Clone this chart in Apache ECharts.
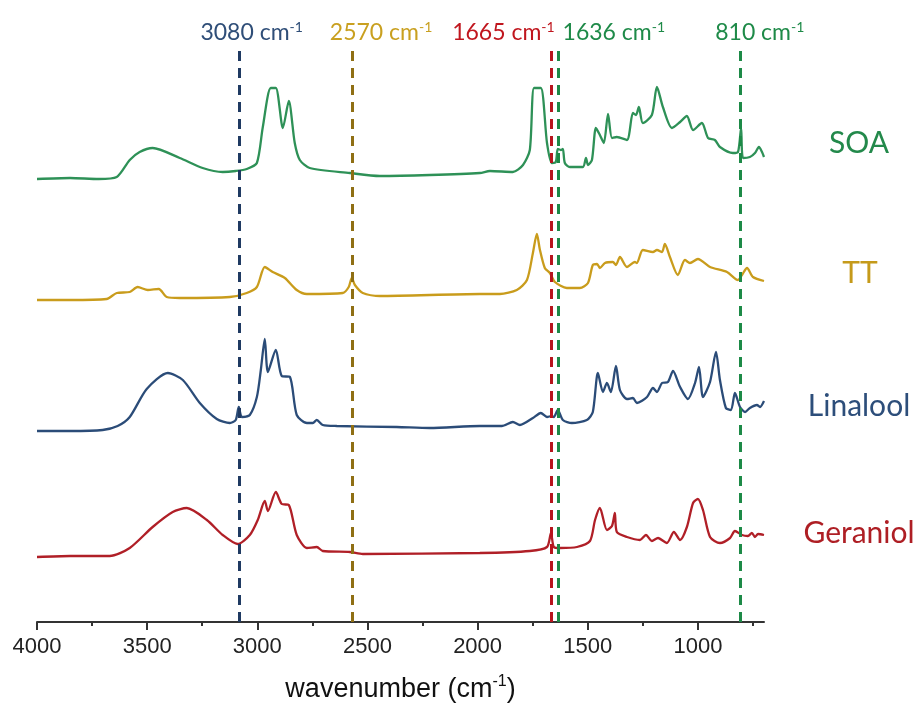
<!DOCTYPE html>
<html><head><meta charset="utf-8">
<script src="https://cdn.jsdelivr.net/npm/echarts@6/dist/echarts.min.js"></script>
<style>html,body{margin:0;padding:0;background:#fff}#c{width:924px;height:711px}</style>
</head><body><div id="c"></div>
<script>
// ---- data (wavenumber in cm-1, absorbance in arbitrary units relative to each spectrum's baseline) ----
const soaWn = [4000,3850,3720,3638,3579,3534,3475,3352,3248,3157,3098,3048,3002,2975,2939,2916,2884,2857,2830,2807,2762,2580,2444,2217,1990,1944,1840,1794,1763,1744,1713,1685,1663,1645,1636,1622,1613,1604,1581,1522,1508,1499,1481,1463,1445,1427,1408,1390,1368,1322,1295,1281,1268,1250,1209,1186,1159,1118,1081,1050,1022,982,954,923,900,841,818,804,795,764,741,723,709,700];
const soaAbs = [0,1,0,2,19,27,31,21,11,7,8,10,16,52,91,91,51,78,36,19,11,6,3,4,6,8,7,14,29,91,91,36,16,17,30,29,30,16,12,12,21,14,19,51,44,36,65,41,42,39,66,64,72,56,64,92,72,51,57,63,49,56,41,39,32,26,27,51,21,22,26,32,27,22];

const ttWn = [4000,3850,3684,3638,3579,3543,3497,3447,3411,3352,3125,3048,3002,2966,2930,2875,2821,2775,2612,2585,2571,2557,2521,2444,1990,1899,1822,1776,1749,1731,1717,1695,1672,1649,1595,1536,1499,1477,1458,1445,1422,1386,1372,1354,1322,1286,1277,1250,1204,1186,1163,1150,1127,1091,1059,1036,1000,945,868,818,800,777,750,700];
const ttAbs = [0,0,1,7,8,13,10,11,3,2,3,7,13,33,28,22,10,6,7,13,22,15,7,4,6,6,10,20,47,66,50,32,27,18,12,12,17,35,36,32,37,38,35,43,33,38,37,50,48,50,48,56,43,25,40,37,41,33,28,20,25,32,23,19];

const linaloolWn = [4000,3850,3702,3634,3579,3502,3406,3338,3261,3184,3125,3098,3084,3070,3034,3002,2984,2966,2952,2916,2889,2852,2821,2775,2748,2730,2703,2639,2367,2217,1990,1890,1840,1808,1749,1713,1685,1663,1654,1636,1613,1572,1504,1477,1454,1431,1413,1395,1372,1354,1322,1295,1277,1231,1204,1186,1163,1136,1113,1081,1045,1013,995,977,945,918,900,873,850,832,809,786,764,732,718,700];
const linaloolAbs = [0,0,1,5,14,42,58,51,28,12,8,11,24,14,16,34,61,92,59,81,55,54,16,8,8,11,6,5,4,3,5,5,9,6,13,18,14,15,14,21,11,8,11,19,58,39,48,39,65,41,32,33,28,34,43,39,48,49,60,44,32,48,64,34,49,79,51,23,21,38,24,19,23,26,24,30];

const geraniolWn = [4000,3850,3670,3579,3475,3384,3320,3229,3157,3089,3034,2998,2966,2952,2916,2889,2857,2821,2775,2730,2703,2580,2521,1990,1763,1685,1667,1654,1626,1549,1490,1467,1445,1413,1390,1377,1368,1322,1263,1236,1209,1181,1141,1109,1081,1050,1022,1000,977,945,900,854,832,800,773,755,741,727,700];
const geraniolAbs = [0,1,1,9,30,45,49,37,22,13,22,37,56,46,65,53,52,22,9,10,6,5,3,4,6,10,24,10,9,10,16,37,49,27,31,44,25,20,17,22,16,19,14,25,17,30,54,58,47,20,14,19,26,22,21,24,20,23,22];

const spectrumNames = ['SOA', 'TT', 'Linalool', 'Geraniol'];
const stackOffsets = [443, 322, 191, 65];   // vertical offset of each spectrum (a.u.)

const markerWn = [3080, 2570, 1665, 1636, 810];
const markerText = ['3080 cm', '2570 cm', '1665 cm', '1636 cm', '810 cm'];

const majorTicks = [4000, 3500, 3000, 2500, 2000, 1500, 1000];
const minorTicks = [3750, 3250, 2750, 2250, 1750, 1250, 750];

// ---- styles ----
const lineColors = ['#2e9157', '#c99c1c', '#2b4c78', '#b01f27'];
const nameColors = ['#23894b', '#c59a1a', '#2d4e7a', '#ae1e24'];
const namePos = [[859, 143], [860, 273], [859, 406], [859, 533]];
const markerLineColors = ['#1f3a62', '#8f6f14', '#b8141d', '#1d8a47', '#1d8a47'];
const markerTextColors = ['#2f4e78', '#c9a020', '#c0161e', '#1e8a48', '#1e8a48'];
const markerDx = [12, 29, -48, 56, 20];

const wnArrays = [soaWn, ttWn, linaloolWn, geraniolWn];
const absArrays = [soaAbs, ttAbs, linaloolAbs, geraniolAbs];

const chart = echarts.init(document.getElementById('c'), null, {renderer: 'canvas'});

const series = spectrumNames.map((name, k) => ({
  name,
  type: 'line',
  xAxisIndex: 0,
  showSymbol: false,
  smooth: 0.25,
  silent: true,
  animation: false,
  data: wnArrays[k].map((w, i) => [w, absArrays[k][i] + stackOffsets[k]]),
  lineStyle: {color: lineColors[k], width: 2.3},
  z: 2
}));

series.push({
  type: 'line',
  xAxisIndex: 0,
  data: [],
  silent: true,
  animation: false,
  markLine: {
    silent: true,
    animation: false,
    symbol: ['none', 'none'],
    data: markerWn.map((w, i) => ({
      xAxis: w,
      lineStyle: {color: markerLineColors[i], type: [10, 7], width: 3},
      label: {
        show: true,
        position: 'end',
        distance: 4,
        offset: [markerDx[i], 0],
        formatter: '{a|' + markerText[i] + '}{s|-1}',
        rich: {
          a: {color: markerTextColors[i], fontSize: 23, fontFamily: 'Lato', lineHeight: 26},
          s: {color: markerTextColors[i], fontSize: 14, fontFamily: 'Lato', verticalAlign: 'top', lineHeight: 14}
        }
      }
    }))
  }
});

const axisColor = '#333';
chart.setOption({
  animation: false,
  backgroundColor: '#fff',
  grid: {left: 37, right: 160, top: 50, bottom: 89},
  xAxis: [{
    type: 'value', inverse: true, min: 700, max: 4000, position: 'bottom',
    axisLine: {show: true, lineStyle: {color: axisColor, width: 2}},
    axisTick: {show: true, customValues: majorTicks, length: 8, lineStyle: {color: axisColor, width: 2}},
    axisLabel: {customValues: majorTicks, formatter: v => String(v), fontFamily: 'Liberation Sans, Arial', fontSize: 22, color: '#222', margin: 14},
    splitLine: {show: false},
    name: '{a|wavenumber (cm}{s|-1}{a|)}',
    nameLocation: 'middle',
    nameGap: 52,
    nameTextStyle: {
      rich: {
        a: {fontFamily: 'Liberation Sans, Arial', fontSize: 27, color: '#111', lineHeight: 32},
        s: {fontFamily: 'Liberation Sans, Arial', fontSize: 16, color: '#111', verticalAlign: 'top', lineHeight: 16}
      }
    }
  }, {
    type: 'value', inverse: true, min: 700, max: 4000, position: 'bottom', gridIndex: 0,
    axisLine: {show: false},
    axisTick: {show: true, customValues: minorTicks, length: 4, lineStyle: {color: axisColor, width: 2}},
    axisLabel: {show: false},
    splitLine: {show: false}
  }],
  yAxis: {type: 'value', min: 0, max: 572, show: false, splitLine: {show: false}},
  graphic: spectrumNames.map((name, k) => ({
    type: 'text',
    x: namePos[k][0],
    y: namePos[k][1],
    silent: true,
    style: {text: name, fill: nameColors[k], fontSize: 30, fontFamily: 'Lato', align: 'center', verticalAlign: 'middle'}
  })),
  series
});
</script>
</body></html>
